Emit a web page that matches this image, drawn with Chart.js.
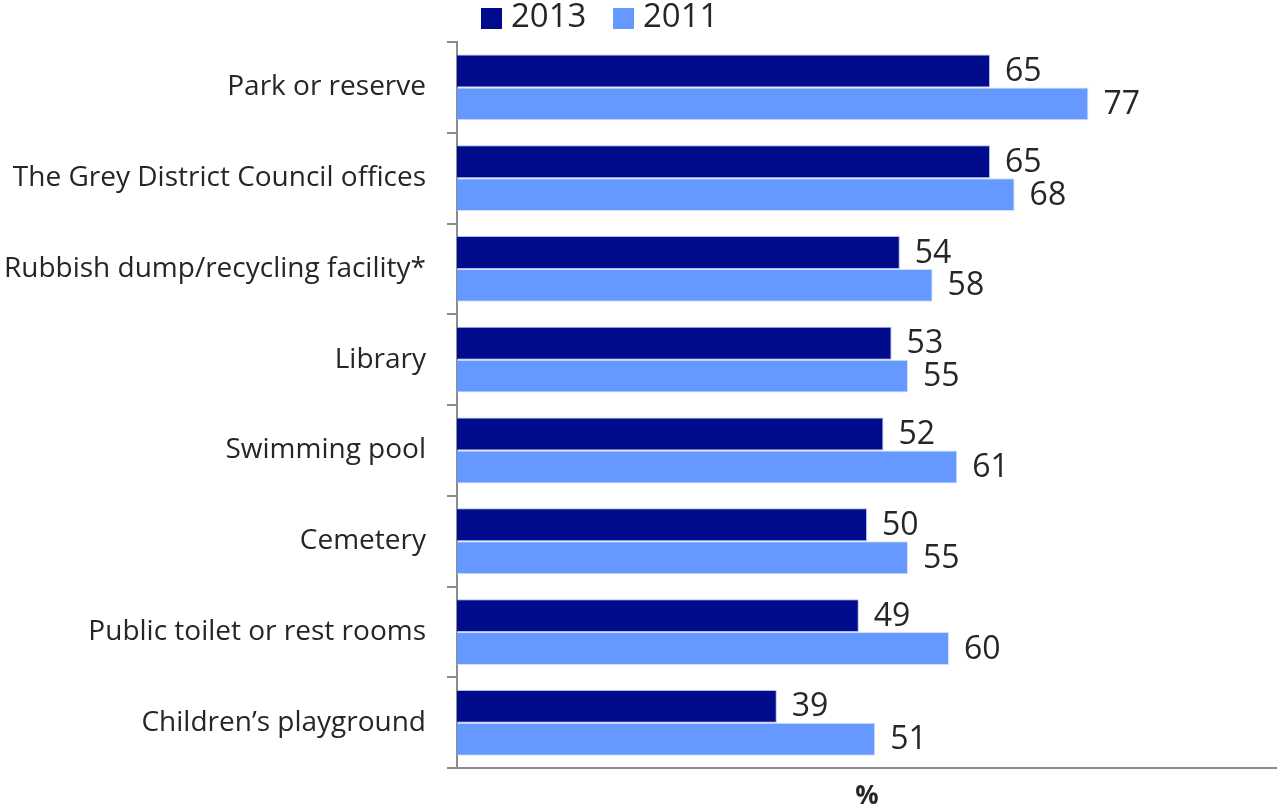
<!DOCTYPE html>
<html>
<head>
<meta charset="utf-8">
<script src="https://cdn.jsdelivr.net/npm/chart.js@4"></script>
<style>
  html, body { margin: 0; padding: 0; background: #ffffff; }
  #wrap { width: 1277px; height: 806px; position: relative; }
</style>
</head>
<body>
<div id="wrap"><canvas id="chart"></canvas></div>
<script>
// Facilities used in the last 12 months (%)
const categories = [
  'Park or reserve',
  'The Grey District Council offices',
  'Rubbish dump/recycling facility*',
  'Library',
  'Swimming pool',
  'Cemetery',
  'Public toilet or rest rooms',
  'Children\u2019s playground'
];
const seriesNames = ['2013', '2011'];
const values2013 = [65, 65, 54, 53, 52, 50, 49, 39];
const values2011 = [77, 68, 58, 55, 61, 55, 60, 51];
const axisTitle = '%';

const DARK = '#000C8C';
const LIGHT = '#6699FF';
const TEXT = '#262626';
const AXIS = '#8C8C8C';
const FONT = "'Open Sans', 'Noto Sans', sans-serif";

// Value labels at the end of every bar
const valueLabels = {
  id: 'valueLabels',
  afterDatasetsDraw(chart) {
    const ctx = chart.ctx;
    ctx.save();
    ctx.font = '32px ' + FONT;
    ctx.fillStyle = TEXT;
    ctx.textAlign = 'left';
    ctx.textBaseline = 'middle';
    chart.data.datasets.forEach((ds, i) => {
      const meta = chart.getDatasetMeta(i);
      meta.data.forEach((bar, j) => {
        ctx.fillText(String(ds.data[j]), bar.x + 15, bar.y + 1);
      });
    });
    ctx.restore();
  }
};

// Legend row above the plot
const topLegend = {
  id: 'topLegend',
  afterDraw(chart) {
    const ctx = chart.ctx;
    const starts = [481, 613];
    ctx.save();
    ctx.font = '33px ' + FONT;
    ctx.textBaseline = 'middle';
    ctx.textAlign = 'left';
    chart.data.datasets.forEach((ds, i) => {
      const x = starts[i];
      ctx.fillStyle = ds.backgroundColor;
      ctx.fillRect(x, 8, 21, 21);
      ctx.fillStyle = TEXT;
      ctx.fillText(ds.label, x + 30, 18);
    });
    ctx.restore();
  }
};

new Chart(document.getElementById('chart'), {
  type: 'bar',
  data: {
    labels: categories,
    datasets: [
      { label: seriesNames[0], data: values2013, backgroundColor: DARK, borderColor: 'rgba(120,140,220,0.6)', borderWidth: 1 },
      { label: seriesNames[1], data: values2011, backgroundColor: LIGHT, borderColor: 'rgba(200,215,255,0.8)', borderWidth: 1 }
    ]
  },
  options: {
    indexAxis: 'y',
    responsive: true,
    maintainAspectRatio: false,
    animation: false,
    layout: { padding: { top: 42, left: 0, right: 0, bottom: 0 } },
    datasets: { bar: { categoryPercentage: 0.725, barPercentage: 1.0 } },
    plugins: {
      legend: { display: false },
      tooltip: { enabled: false }
    },
    scales: {
      x: {
        min: 0,
        max: 100,
        grid: { display: false, drawTicks: false },
        border: { display: true, color: AXIS, width: 2 },
        ticks: { display: false },
        title: {
          display: true,
          text: axisTitle,
          color: TEXT,
          font: { family: FONT, size: 26, weight: 'bold', lineHeight: 0.7 },
          padding: { top: 0, bottom: 0 }
        },
        afterFit(scale) { scale.height = 37; }
      },
      y: {
        grid: {
          display: true,
          offset: true,
          drawOnChartArea: false,
          drawTicks: true,
          tickLength: 10,
          color: AXIS,
          lineWidth: 2
        },
        border: { display: true, color: AXIS, width: 2 },
        ticks: {
          color: TEXT,
          padding: 21,
          font: { family: FONT, size: 28 }
        },
        afterFit(scale) { scale.width = 457; }
      }
    }
  },
  plugins: [valueLabels, topLegend]
});
</script>
</body>
</html>
